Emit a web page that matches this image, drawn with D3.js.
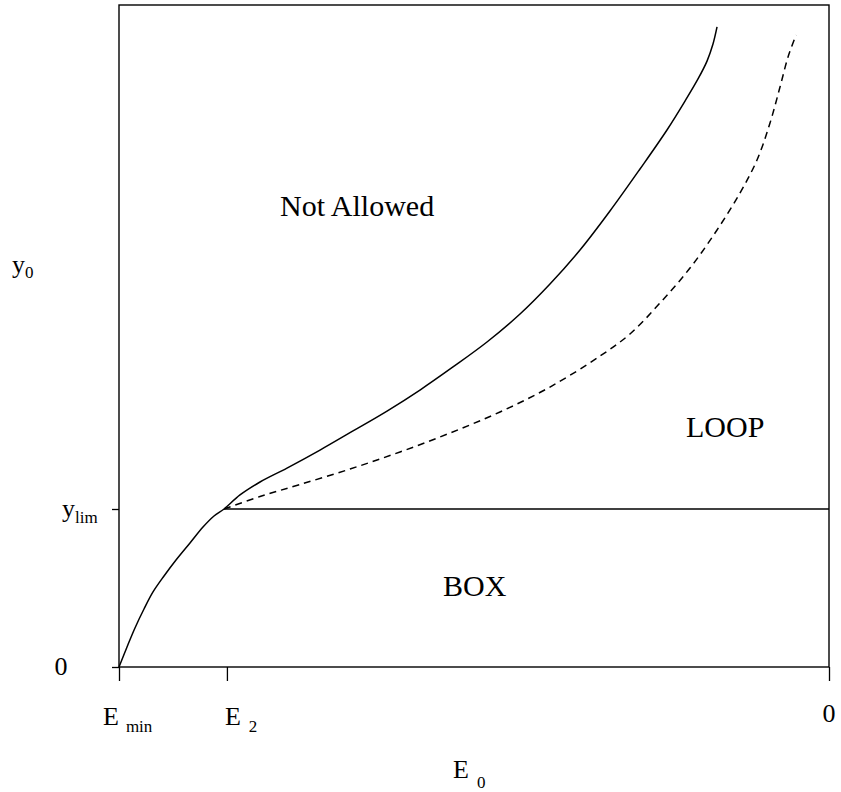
<!DOCTYPE html>
<html>
<head>
<meta charset="utf-8">
<script src="https://cdn.jsdelivr.net/npm/d3@7"></script>
<style>
  body { margin: 0; background: #fff; }
  svg text { font-family: "Liberation Serif", "Times New Roman", serif; fill: #000; }
</style>
</head>
<body>
<svg id="chart" width="841" height="792"></svg>
<script>
// значения с картинки (E от E_min=-1 до 0, y в единицах y_lim)
const E_MIN = -1, E_2 = -0.848, E_ZERO = 0;
const E_JOIN = -0.852; // точка где сходятся кривые
const Y_LIM = 1, Y_TOP = 4.19;

// граница "Not Allowed" (сплошная)
const solidE = [-1.000, -0.9887, -0.9775, -0.9648, -0.9521, -0.9366, -0.9197, -0.9000, -0.8817, -0.8662,
  E_JOIN, -0.8296, -0.8014, -0.7634, -0.7169, -0.6704, -0.6225, -0.5761, -0.5296, -0.4817,
  -0.4352, -0.3930, -0.3507, -0.3085, -0.2662, -0.2282, -0.2028, -0.1845, -0.1718, -0.1634, -0.1577];
const solidY = [0.000, 0.127, 0.247, 0.367, 0.475, 0.576, 0.677, 0.785, 0.886, 0.956,
  1.000, 1.089, 1.171, 1.259, 1.373, 1.494, 1.620, 1.753, 1.899, 2.057,
  2.234, 2.424, 2.639, 2.886, 3.152, 3.399, 3.582, 3.722, 3.835, 3.943, 4.051];

// пунктир
const dashE = [E_JOIN, -0.8014, -0.7451, -0.6746, -0.6042, -0.5338, -0.4634, -0.3930, -0.3225, -0.2803,
  -0.2380, -0.1958, -0.1577, -0.1254, -0.1014, -0.0831, -0.0690, -0.0577, -0.0465];
const dashY = [1.000, 1.079, 1.155, 1.253, 1.361, 1.481, 1.614, 1.772, 1.968, 2.108,
  2.304, 2.525, 2.766, 3.000, 3.209, 3.443, 3.671, 3.861, 4.000];

// горизонталь y_lim
const limE = [E_JOIN, E_ZERO];
const limY = [Y_LIM, Y_LIM];

const regionLabels = ["Not Allowed", "LOOP", "BOX"];

const svg = d3.select("#chart");
const area = { left: 119, right: 829, top: 5, bottom: 667 };

const scX = d3.scaleLinear().domain([E_MIN, E_ZERO]).range([area.left, area.right]);
const scY = d3.scaleLinear().domain([0, Y_TOP]).range([area.bottom, area.top]);

// рамка
svg.append("rect")
  .attr("x", area.left).attr("y", area.top)
  .attr("width", area.right - area.left).attr("height", area.bottom - area.top)
  .attr("fill", "none").attr("stroke", "#000").attr("stroke-width", 1.4);

// оси (только засечки)
const axX = svg.append("g")
  .attr("transform", `translate(0,${area.bottom})`)
  .call(d3.axisBottom(scX).tickValues([E_MIN, E_2, E_ZERO]).tickFormat("").tickSize(14).tickSizeOuter(0));
const axY = svg.append("g")
  .attr("transform", `translate(${area.left},0)`)
  .call(d3.axisLeft(scY).tickValues([0, Y_LIM]).tickFormat("").tickSize(7).tickSizeOuter(0));
[axX, axY].forEach(g => {
  g.select(".domain").remove();
  g.selectAll("line").attr("stroke", "#000").attr("stroke-width", 1.3);
});

const line = d3.line().x(d => scX(d[0])).y(d => scY(d[1])).curve(d3.curveCatmullRom.alpha(0.5));
const zip = (a, b) => a.map((v, i) => [v, b[i]]);

svg.append("path").datum(zip(solidE, solidY)).attr("d", line)
  .attr("fill", "none").attr("stroke", "#000").attr("stroke-width", 1.5);
svg.append("path").datum(zip(dashE, dashY)).attr("d", line)
  .attr("fill", "none").attr("stroke", "#000").attr("stroke-width", 1.5)
  .attr("stroke-dasharray", "7,5");
svg.append("path").datum(zip(limE, limY)).attr("d", d3.line().x(d => scX(d[0])).y(d => scY(d[1])))
  .attr("fill", "none").attr("stroke", "#000").attr("stroke-width", 1.4);

// подписи с индексами
function subLabel(x, y, main, sub, gap, dy, anchor) {
  const t = svg.append("text").attr("x", x).attr("y", y)
    .attr("text-anchor", anchor || "start").style("font-size", "26px");
  t.append("tspan").text(main);
  if (sub) {
    t.append("tspan").attr("dx", gap).attr("dy", dy).style("font-size", "17px").text(sub);
  }
  return t;
}

// подписи оси X
subLabel(scX(E_MIN) - 16, 725, "E", "min", 7, 7);
subLabel(scX(E_2) - 2, 725, "E", "2", 8, 7);
subLabel(scX(E_ZERO), 722, "0", null, 0, 0, "middle");
subLabel(453, 778, "E", "0", 8, 10);

// подписи оси Y
subLabel(61, scY(0) + 8, "0", null, 0, 0, "middle");
subLabel(62, scY(Y_LIM) + 8, "y", "lim", 0, 6);
subLabel(12, 273, "y", "0", 0, 5);

// области
const regionPos = [[280, 216], [686, 437], [443, 596]];
regionLabels.forEach((s, i) => {
  svg.append("text").attr("x", regionPos[i][0]).attr("y", regionPos[i][1])
    .style("font-size", "30px").text(s);
});
</script>
</body>
</html>
